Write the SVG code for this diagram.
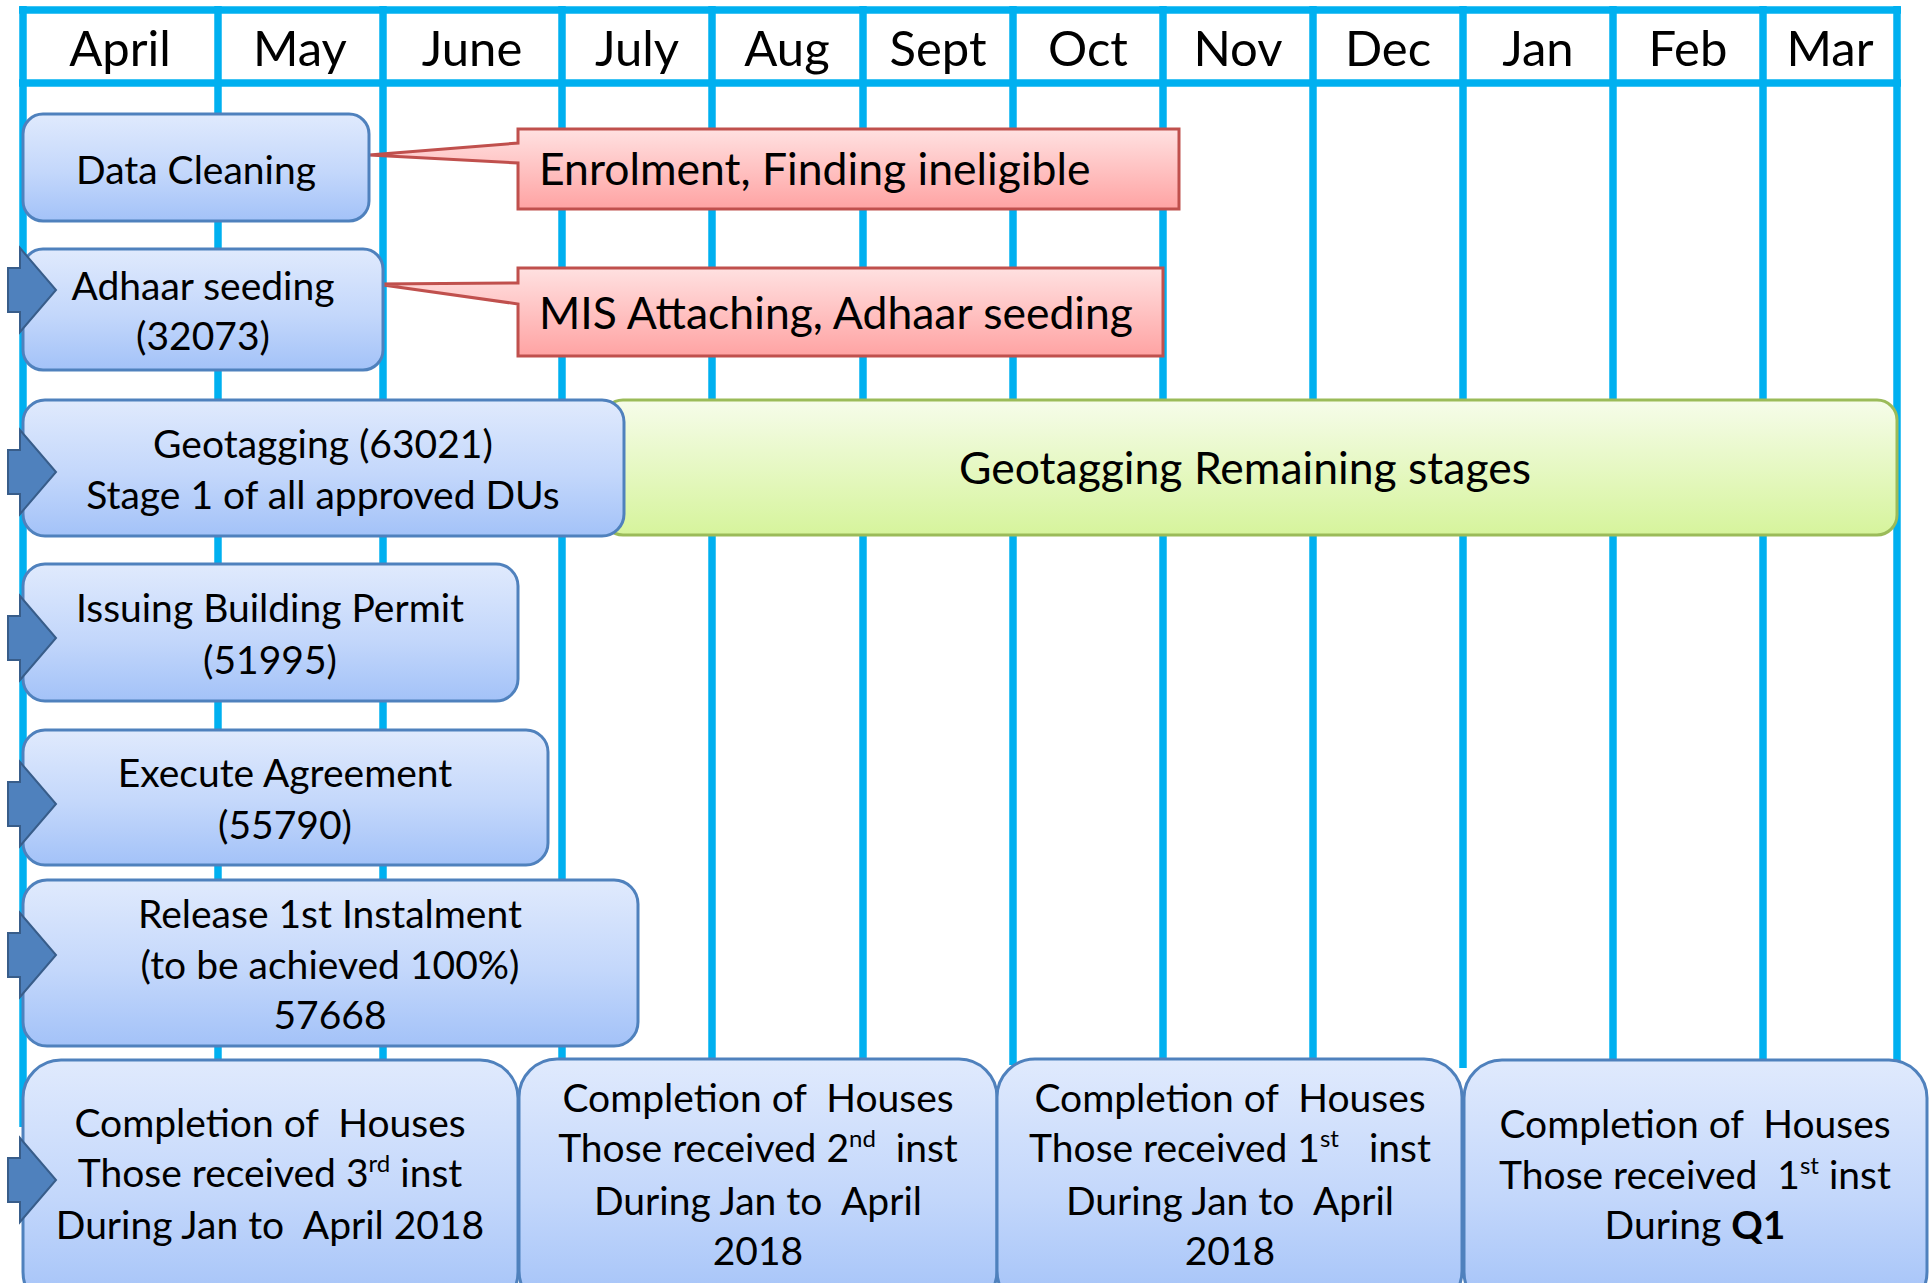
<svg xmlns="http://www.w3.org/2000/svg" width="1931" height="1283" viewBox="0 0 1931 1283">
<defs>
<linearGradient id="blueG" x1="0" y1="0" x2="0" y2="1">
<stop offset="0" stop-color="#E0EAFD"/>
<stop offset="0.55" stop-color="#C3D7FB"/>
<stop offset="1" stop-color="#A3C2F8"/>
</linearGradient>
<linearGradient id="greenG" x1="0" y1="0" x2="0" y2="1">
<stop offset="0" stop-color="#F6FCEA"/>
<stop offset="1" stop-color="#D6F49C"/>
</linearGradient>
<linearGradient id="redG" x1="0" y1="0" x2="0" y2="1">
<stop offset="0" stop-color="#FFE1E1"/>
<stop offset="1" stop-color="#FFA3A3"/>
</linearGradient>
<path id="arrowShape" d="M8,-22 H20 V-42 L56,0 L20,42 V22 H8 Z"/>
</defs>
<style>
.grid{stroke:#00B0F0;stroke-width:7.5;fill:none}
.month{font-family:Lato,"Open Sans","DejaVu Sans",sans-serif;font-size:49px;text-anchor:middle;fill:#000}
.box{fill:url(#blueG);stroke:#4F81BD;stroke-width:3}
.green{fill:url(#greenG);stroke:#9BBB59;stroke-width:3}
.callout{fill:url(#redG);stroke:#C0504D;stroke-width:3}
.t{font-family:Lato,"Open Sans","DejaVu Sans",sans-serif;font-size:39px;text-anchor:middle;fill:#000;white-space:pre}
.tl{font-family:Lato,"Open Sans","DejaVu Sans",sans-serif;font-size:44.5px;fill:#000}
.sup{font-size:24px}
.arrow{fill:#4F81BD;stroke:#385D8A;stroke-width:2}
</style>
<rect width="1931" height="1283" fill="#FFFFFF"/>

<g id="grid">
<line class="grid" x1="19" y1="10" x2="1901" y2="10"/>
<line class="grid" x1="19" y1="83" x2="1901" y2="83"/>
<line class="grid" x1="23" y1="6" x2="23" y2="1127"/>
<line class="grid" x1="218" y1="6" x2="218" y2="1065"/>
<line class="grid" x1="383" y1="6" x2="383" y2="1065"/>
<line class="grid" x1="562" y1="6" x2="562" y2="1065"/>
<line class="grid" x1="712" y1="6" x2="712" y2="1065"/>
<line class="grid" x1="863" y1="6" x2="863" y2="1065"/>
<line class="grid" x1="1013" y1="6" x2="1013" y2="1065"/>
<line class="grid" x1="1163" y1="6" x2="1163" y2="1065"/>
<line class="grid" x1="1313" y1="6" x2="1313" y2="1065"/>
<line class="grid" x1="1463" y1="6" x2="1463" y2="1068"/>
<line class="grid" x1="1613" y1="6" x2="1613" y2="1065"/>
<line class="grid" x1="1763" y1="6" x2="1763" y2="1065"/>
<line class="grid" x1="1897" y1="6" x2="1897" y2="1065"/>
</g>

<g id="months">
<text class="month" x="120" y="66">April</text>
<text class="month" x="300" y="66">May</text>
<text class="month" x="472" y="66">June</text>
<text class="month" x="637" y="66">July</text>
<text class="month" x="787" y="66">Aug</text>
<text class="month" x="938" y="66">Sept</text>
<text class="month" x="1088" y="66">Oct</text>
<text class="month" x="1238" y="66">Nov</text>
<text class="month" x="1388" y="66">Dec</text>
<text class="month" x="1538" y="66">Jan</text>
<text class="month" x="1688" y="66">Feb</text>
<text class="month" x="1830" y="66">Mar</text>
</g>

<g id="connectors">
<path class="callout" d="M518,129 H1179 V209 H518 V163 L369,155 L518,143 Z"/>
<path class="callout" d="M518,268 H1163 V356 H518 V304 L376,284 L518,283 Z"/>
</g>

<g id="callout-enrolment">
<text class="tl" x="539" y="185">Enrolment, Finding ineligible</text>
</g>
<g id="callout-mis">
<text class="tl" x="539" y="329">MIS Attaching, Adhaar seeding</text>
</g>

<g id="data-cleaning">
<rect class="box" x="23" y="114" width="346" height="107" rx="20"/>
<text class="t" x="196" y="184">Data Cleaning</text>
</g>

<g id="adhaar-seeding">
<rect class="box" x="23" y="249" width="360" height="121" rx="20"/>
<text class="t" x="203" y="300">Adhaar seeding</text>
<text class="t" x="203" y="350">(32073)</text>
</g>

<g id="geotagging-remaining">
<rect class="green" x="603" y="400" width="1294" height="135" rx="20"/>
<text class="tl" x="1245" y="484" text-anchor="middle">Geotagging Remaining stages</text>
</g>

<g id="geotagging">
<rect class="box" x="23" y="400" width="601" height="136" rx="22"/>
<text class="t" x="323" y="458">Geotagging (63021)</text>
<text class="t" x="323" y="509">Stage 1 of all approved DUs</text>
</g>

<g id="building-permit">
<rect class="box" x="23" y="564" width="495" height="137" rx="22"/>
<text class="t" x="270" y="622">Issuing Building Permit</text>
<text class="t" x="270" y="674">(51995)</text>
</g>

<g id="execute-agreement">
<rect class="box" x="23" y="730" width="525" height="135" rx="22"/>
<text class="t" x="285" y="787">Execute Agreement</text>
<text class="t" x="285" y="839">(55790)</text>
</g>

<g id="release-instalment">
<rect class="box" x="23" y="880" width="615" height="166" rx="24"/>
<text class="t" x="330" y="928">Release 1st Instalment</text>
<text class="t" x="330" y="979">(to be achieved 100%)</text>
<text class="t" x="330" y="1029">57668</text>
</g>

<g id="completion-3rd">
<rect class="box" x="23" y="1060" width="495" height="250" rx="38"/>
<text class="t" x="270" y="1137">Completion of  Houses</text>
<text class="t" x="270" y="1187">Those received 3<tspan class="sup" dy="-15">rd</tspan><tspan dy="15"> inst</tspan></text>
<text class="t" x="270" y="1239">During Jan to  April 2018</text>
</g>

<g id="completion-2nd">
<rect class="box" x="519" y="1059" width="478" height="250" rx="38"/>
<text class="t" x="758" y="1112">Completion of  Houses</text>
<text class="t" x="758" y="1162">Those received 2<tspan class="sup" dy="-15">nd</tspan><tspan dy="15">  inst</tspan></text>
<text class="t" x="758" y="1215">During Jan to  April</text>
<text class="t" x="758" y="1265">2018</text>
</g>

<g id="completion-1st">
<rect class="box" x="997" y="1059" width="465" height="250" rx="38"/>
<text class="t" x="1230" y="1112">Completion of  Houses</text>
<text class="t" x="1230" y="1162">Those received 1<tspan class="sup" dy="-15">st</tspan><tspan dy="15">   inst</tspan></text>
<text class="t" x="1230" y="1215">During Jan to  April</text>
<text class="t" x="1230" y="1265">2018</text>
</g>

<g id="completion-q1">
<rect class="box" x="1464" y="1060" width="463" height="250" rx="38"/>
<text class="t" x="1695" y="1138">Completion of  Houses</text>
<text class="t" x="1695" y="1189">Those received  1<tspan class="sup" dy="-15">st</tspan><tspan dy="15"> inst</tspan></text>
<text class="t" x="1695" y="1239">During <tspan font-weight="bold">Q1</tspan></text>
</g>

<g id="arrows">
<use href="#arrowShape" class="arrow" transform="translate(0,290)"/>
<use href="#arrowShape" class="arrow" transform="translate(0,472)"/>
<use href="#arrowShape" class="arrow" transform="translate(0,638)"/>
<use href="#arrowShape" class="arrow" transform="translate(0,804)"/>
<use href="#arrowShape" class="arrow" transform="translate(0,955)"/>
<use href="#arrowShape" class="arrow" transform="translate(0,1180)"/>
</g>
</svg>
